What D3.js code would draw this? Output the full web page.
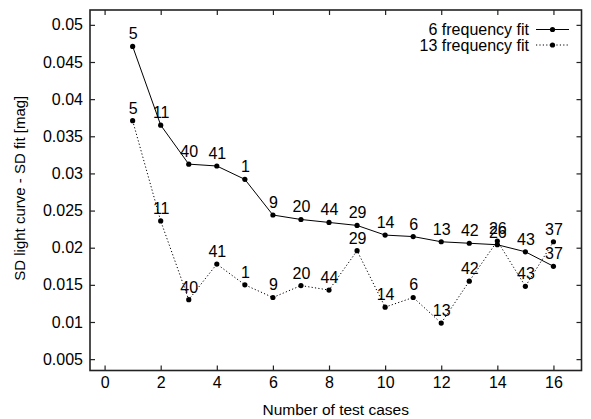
<!DOCTYPE html>
<html>
<head>
<meta charset="utf-8">
<script src="https://cdn.jsdelivr.net/npm/d3@7"></script>
<style>
  body { margin: 0; background: #fff; }
  svg text { font-family: "Liberation Sans", Arial, sans-serif; fill: #000; }
</style>
</head>
<body>
<svg id="chart" width="591" height="419"></svg>
<script>
// number of test cases on x, SD difference on y
const testCases = [1, 2, 3, 4, 5, 6, 7, 8, 9, 10, 11, 12, 13, 14, 15, 16];
const caseIds = ["5", "11", "40", "41", "1", "9", "20", "44", "29", "14", "6", "13", "42", "26", "43", "37"];
const fit6 = [0.0471, 0.0365, 0.03125, 0.0310, 0.0292, 0.0244, 0.0238, 0.0234, 0.0230, 0.0217, 0.0215, 0.0208, 0.0206, 0.0204, 0.01945, 0.0175];
const fit13 = [0.0371, 0.0236, 0.0130, 0.0178, 0.0150, 0.0133, 0.0149, 0.0143, 0.0196, 0.0120, 0.0133, 0.00985, 0.0155, 0.0209, 0.0148, 0.0208];
const xTicks = [0, 2, 4, 6, 8, 10, 12, 14, 16];
const yTicks = [0.005, 0.01, 0.015, 0.02, 0.025, 0.03, 0.035, 0.04, 0.045, 0.05];
const seriesNames = ["6 frequency fit", "13 frequency fit"];

const svg = d3.select("#chart");
const margin = { top: 10, right: 9.5, bottom: 48.5, left: 90 };
const width = 591 - margin.left - margin.right;
const height = 419 - margin.top - margin.bottom;

const x = d3.scaleLinear().domain([-0.52, 17]).range([0, width]);
const y = d3.scaleLinear().domain([0.00347, 0.052]).range([height, 0]);

const g = svg.append("g").attr("transform", `translate(${margin.left},${margin.top})`);

// axes, ticks pointing inward, mirrored on top/right
const fmt = d3.format("~g");
const axisStyle = (sel) => {
  sel.select(".domain").remove();
  sel.selectAll(".tick line").attr("stroke", "#222").attr("stroke-width", 1.2);
  sel.selectAll("text").attr("font-size", 16).style("font-family", "Liberation Sans, Arial, sans-serif");
};
g.append("g").attr("transform", `translate(0,${height})`)
  .call(d3.axisBottom(x).tickValues(xTicks).tickSize(-5).tickPadding(6).tickFormat(d3.format("d")))
  .call(axisStyle);
g.append("g")
  .call(d3.axisTop(x).tickValues(xTicks).tickSize(-5).tickFormat(""))
  .call(axisStyle);
g.append("g")
  .call(d3.axisLeft(y).tickValues(yTicks).tickSize(-5).tickPadding(7).tickFormat(fmt))
  .call(axisStyle);
g.append("g").attr("transform", `translate(${width},0)`)
  .call(d3.axisRight(y).tickValues(yTicks).tickSize(-5).tickFormat(""))
  .call(axisStyle);

// frame
g.append("rect")
  .attr("width", width).attr("height", height)
  .attr("fill", "none").attr("stroke", "#222").attr("stroke-width", 1.6);

// axis titles
svg.append("text")
  .attr("x", margin.left + width / 2).attr("y", 415)
  .attr("text-anchor", "middle").attr("font-size", 15.5)
  .text("Number of test cases");
svg.append("text")
  .attr("transform", `translate(25,${margin.top + height / 2 - 2}) rotate(-90)`)
  .attr("text-anchor", "middle").attr("font-size", 15)
  .text("SD light curve - SD fit [mag]");

const line = d3.line().x((d) => x(d[0])).y((d) => y(d[1]));
const series = [
  { name: seriesNames[0], values: fit6, dash: null },
  { name: seriesNames[1], values: fit13, dash: "1.2,2.2" },
];

series.forEach((s) => {
  const pts = testCases.map((c, i) => [c, s.values[i]]);
  g.append("path")
    .datum(pts)
    .attr("d", line)
    .attr("fill", "none")
    .attr("stroke", "#000")
    .attr("stroke-width", 1)
    .attr("stroke-dasharray", s.dash);
  g.selectAll(null)
    .data(pts)
    .enter()
    .append("circle")
    .attr("cx", (d) => x(d[0]))
    .attr("cy", (d) => y(d[1]))
    .attr("r", 2.6)
    .attr("fill", "#000");
  g.selectAll(null)
    .data(pts)
    .enter()
    .append("text")
    .attr("x", (d) => x(d[0]) + 0.5)
    .attr("y", (d) => y(d[1]) - 7)
    .attr("text-anchor", "middle")
    .attr("font-size", 16)
    .text((d, i) => caseIds[i]);
});

// legend
series.forEach((s, i) => {
  const ly = 29.5 + i * 15.5;
  svg.append("text")
    .attr("x", 529).attr("y", ly + 5.5)
    .attr("text-anchor", "end").attr("font-size", 16)
    .text(s.name);
  svg.append("line")
    .attr("x1", 536).attr("x2", 569).attr("y1", ly).attr("y2", ly)
    .attr("stroke", "#000").attr("stroke-width", 1)
    .attr("stroke-dasharray", s.dash);
  svg.append("circle")
    .attr("cx", 552.5).attr("cy", ly).attr("r", 2.6).attr("fill", "#000");
});
</script>
</body>
</html>
